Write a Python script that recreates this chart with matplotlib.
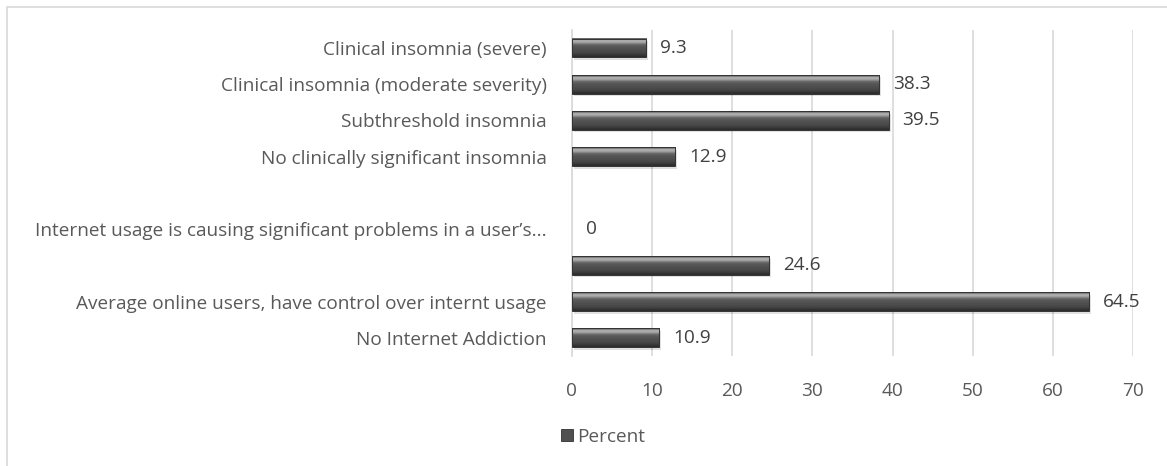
import numpy as np
import matplotlib.pyplot as plt
from matplotlib.patches import Rectangle
from matplotlib.legend_handler import HandlerPatch

plt.rcParams['font.family'] = ['Open Sans', 'DejaVu Sans']

# rows listed bottom to top; the empty row is a gap between the two groups
labels = ['No Internet Addiction',
          'Average online users, have control over internt usage',
          '',
          'Internet usage is causing significant problems in a user\u2019s...',
          '',
          'No clinically significant insomnia',
          'Subthreshold insomnia',
          'Clinical insomnia (moderate severity)',
          'Clinical insomnia (severe)']
percent = [10.9, 64.5, 24.6, 0, np.nan, 12.9, 39.5, 38.3, 9.3]

text_col = '#595959'
grid_col = '#d9d9d9'
fs = 13.7

# vertical shading for the cylinder look of each bar
shade = np.array([
    [0.42, 0.42, 0.42],
    [0.72, 0.72, 0.72],
    [0.60, 0.60, 0.60],
    [0.40, 0.40, 0.40],
    [0.34, 0.34, 0.34],
    [0.32, 0.32, 0.32],
    [0.30, 0.30, 0.30],
    [0.28, 0.28, 0.28],
    [0.24, 0.24, 0.24],
    [0.18, 0.18, 0.18],
])
shade_img = np.repeat(shade[:, None, :], 2, axis=1)

fig = plt.figure(figsize=(11.67, 4.66), dpi=100)
ax = fig.add_axes([0.490, 0.236, 0.481, 0.700])

bar_h = 0.52
y = np.arange(len(labels))
for yi, v in zip(y, percent):
    if np.isnan(v):
        continue
    if v > 0:
        ax.add_patch(Rectangle((0.25, yi - bar_h / 2 - 0.07), v, bar_h,
                               color='black', alpha=0.12, lw=0, zorder=2))
        ax.imshow(shade_img, extent=(0, v, yi - bar_h / 2, yi + bar_h / 2),
                  aspect='auto', origin='upper', interpolation='bilinear', zorder=3)
        ax.add_patch(Rectangle((0, yi - bar_h / 2), v, bar_h, fill=False,
                               ec='#333333', lw=0.7, zorder=4))
    ax.annotate(f'{v:g}', (v, yi), xytext=(10, 0), textcoords='offset points',
                va='center', ha='left', fontsize=fs, color='#404040')

ax.set_xlim(0, 70)
ax.set_ylim(-0.5, len(labels) - 0.5)
ax.set_xticks(range(0, 71, 10))
ax.set_yticks(y)
ax.set_yticklabels(labels)
ax.xaxis.grid(True, color=grid_col, lw=1.2)
ax.set_axisbelow(True)
for s in ['top', 'right', 'bottom']:
    ax.spines[s].set_visible(False)
ax.spines['left'].set_color(grid_col)
ax.spines['left'].set_linewidth(1.2)
ax.tick_params(axis='y', length=0, pad=18, labelsize=fs, labelcolor=text_col)
ax.tick_params(axis='x', length=0, pad=19, labelsize=fs, labelcolor=text_col)

# legend with a single grey swatch
swatch = Rectangle((0, 0), 1, 1, fc='#505050', ec='#333333', lw=0.6)
fig.legend([swatch], ['Percent'], loc='center', bbox_to_anchor=(0.517, 0.062),
           frameon=False, fontsize=fs, labelcolor=text_col,
           handlelength=0.6, handleheight=0.6, handletextpad=0.25,
           handler_map={Rectangle: HandlerPatch()})

# outer chart frame
fig.add_artist(Rectangle((7 / 1167, -0.2), 1.2, 1.2 - 7 / 466,
                         transform=fig.transFigure, fill=False,
                         ec=grid_col, lw=1.2))

fig.savefig('out.png', dpi=100)
